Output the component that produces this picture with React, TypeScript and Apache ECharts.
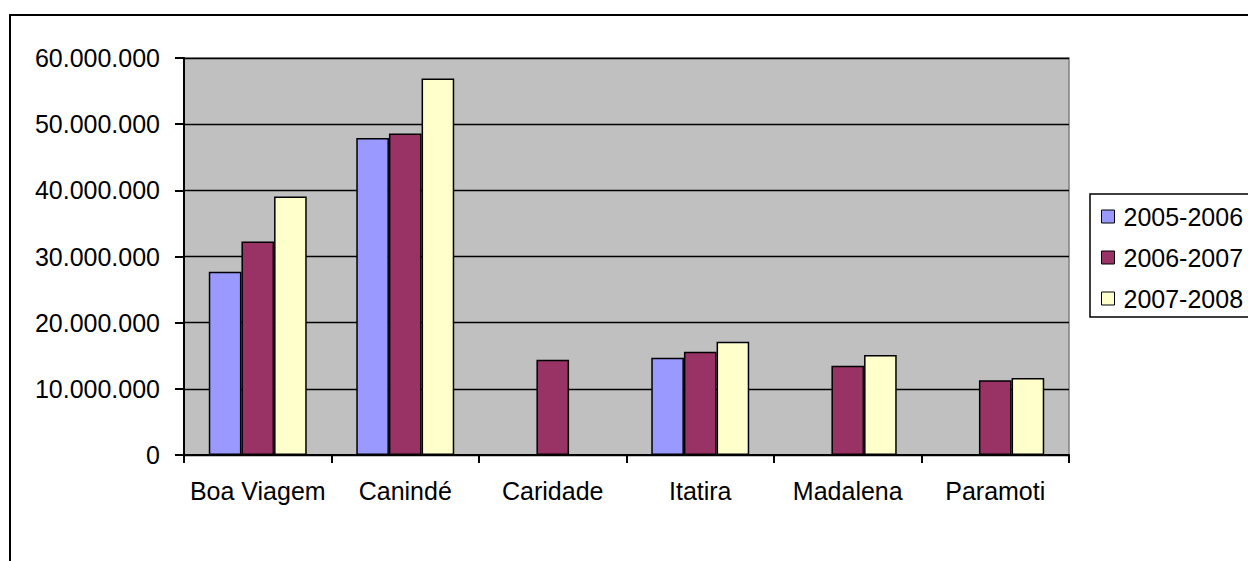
import React, { useEffect, useRef } from "react";
import * as echarts from "echarts";

const categories = ["Boa Viagem", "Canindé", "Caridade", "Itatira", "Madalena", "Paramoti"];
const seriesNames = ["2005-2006", "2006-2007", "2007-2008"];
const values2005 = [27700000, 47900000, null, 14700000, null, null];
const values2006 = [32250000, 48600000, 14400000, 15600000, 13500000, 11300000];
const values2007 = [39050000, 56900000, null, 17100000, 15100000, 11650000];
const colors = ["#9999FF", "#993366", "#FFFFCC"];

const FONT = "'Liberation Sans', Arial, sans-serif";
const FS = 25;

function fmt(v: number): string {
  return String(Math.round(v)).replace(/\B(?=(\d{3})+(?!\d))/g, ".");
}

export default function App() {
  const ref = useRef<HTMLDivElement>(null);
  useEffect(() => {
    if (!ref.current) return;
    const chart = echarts.init(ref.current, null, { renderer: "svg" });
    const allValues = [values2005, values2006, values2007];
    chart.setOption({
      animation: false,
      backgroundColor: "#ffffff",
      textStyle: { fontFamily: FONT },
      grid: {
        left: 184,
        right: 179,
        top: 58,
        bottom: 106,
        show: true,
        backgroundColor: "#C0C0C0",
        borderColor: "#808080",
        borderWidth: 1.5,
      },
      graphic: [
        {
          type: "polyline",
          shape: { points: [[1400, 15], [10, 15], [10, 700]] },
          style: { fill: "none", stroke: "#000", lineWidth: 2 },
          silent: true,
          z: 100,
        },
        {
          type: "polyline",
          shape: { points: [[1400, 194], [1090, 194], [1090, 317], [1400, 317]] },
          style: { fill: "none", stroke: "#000", lineWidth: 1.5 },
          silent: true,
          z: 1,
        },
      ],
      legend: {
        orient: "vertical",
        left: 1090,
        top: 194,
        z: 10,
        data: seriesNames,
        icon: "rect",
        itemWidth: 13,
        itemHeight: 13,
        itemGap: 16,
        padding: [10, 0, 7, 11],
        textStyle: { fontFamily: FONT, fontSize: FS, color: "#000", padding: [0, 0, 0, 4] },
        itemStyle: { borderColor: "#000", borderWidth: 1 },
      },
      xAxis: {
        type: "category",
        data: categories,
        axisLine: { lineStyle: { color: "#000", width: 2 } },
        axisTick: { show: true, length: 8, lineStyle: { color: "#000", width: 2 } },
        axisLabel: { color: "#000", fontSize: FS, fontFamily: FONT, margin: 23, interval: 0 },
      },
      yAxis: {
        type: "value",
        min: 0,
        max: 60000000,
        interval: 10000000,
        axisLine: { show: true, lineStyle: { color: "#000", width: 2 } },
        axisTick: { show: true, length: 9, lineStyle: { color: "#000", width: 2 } },
        axisLabel: {
          color: "#000",
          fontSize: FS,
          fontFamily: FONT,
          margin: 24,
          formatter: (v: number) => fmt(v),
        },
        splitLine: { show: true, lineStyle: { color: "#000", width: 1.3 } },
      },
      series: seriesNames.map((name, i) => ({
        name,
        type: "bar",
        data: allValues[i],
        barGap: "0%",
        barCategoryGap: "33.6%",
        itemStyle: { color: colors[i], borderColor: "#000", borderWidth: 1.5 },
      })),
    });
    return () => chart.dispose();
  }, []);
  return (
    <div
      ref={ref}
      style={{ position: "fixed", left: 0, top: 0, width: 1248, height: 561 }}
    />
  );
}
